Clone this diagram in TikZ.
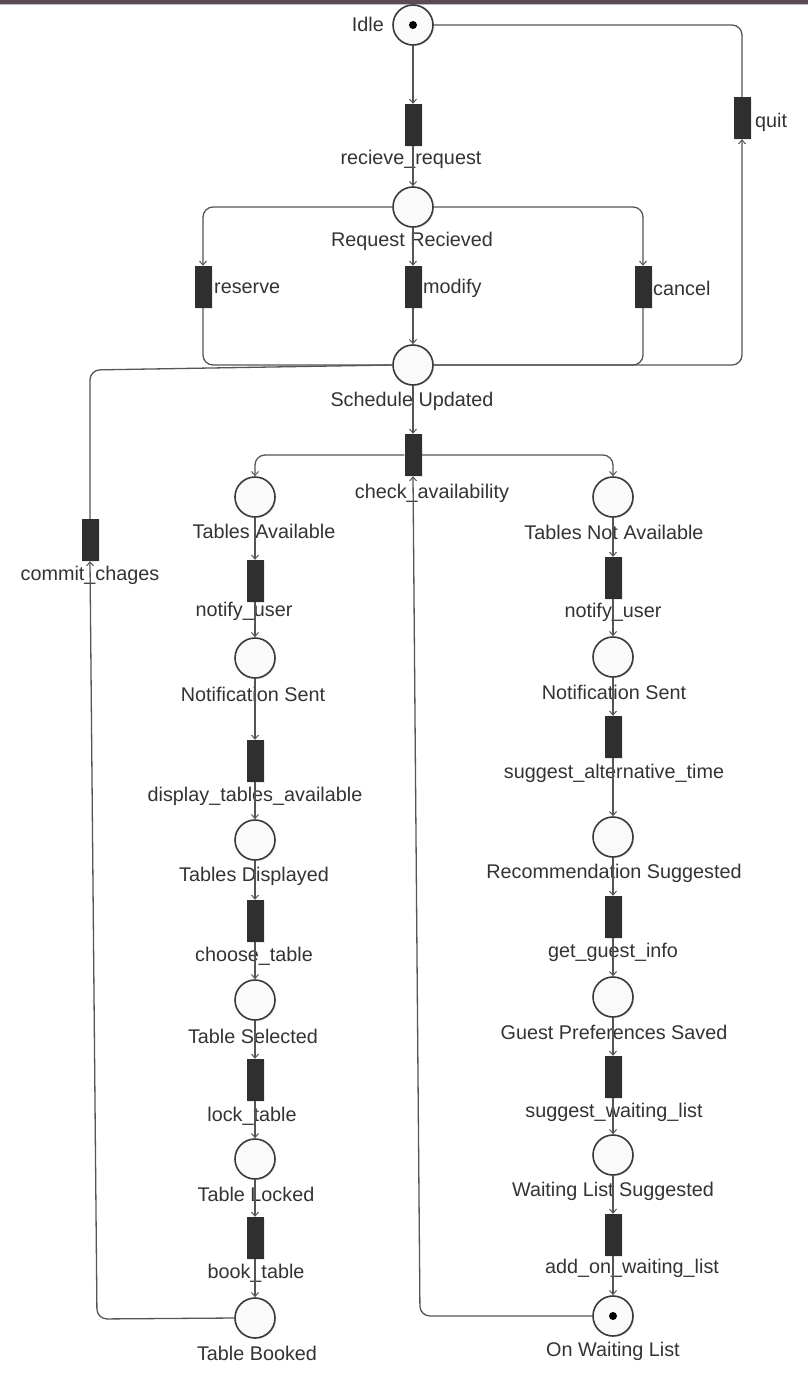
\documentclass[tikz,border=0pt]{standalone}
\usepackage{fontspec}
\setmainfont{Liberation Sans}
\usetikzlibrary{arrows.meta,shadows}
\definecolor{linec}{HTML}{555555}
\definecolor{placeline}{HTML}{3A3A3A}
\definecolor{placefill}{HTML}{FAFAFA}
\definecolor{transfill}{HTML}{2F2F2F}
\definecolor{textc}{HTML}{333333}
\definecolor{topbar}{HTML}{5C4A55}
\definecolor{topline}{HTML}{B8BEC0}
\begin{document}
\begin{tikzpicture}[x=1pt,y=-1pt,
  place/.style={circle,draw=placeline,line width=1.6pt,fill=placefill,minimum size=40pt,inner sep=0pt,
    drop shadow={opacity=0.18,shadow xshift=1.2pt,shadow yshift=-1.2pt}},
  trans/.style={rectangle,fill=transfill,minimum width=17pt,minimum height=42pt,inner sep=0pt,
    drop shadow={opacity=0.18,shadow xshift=1.2pt,shadow yshift=-1.2pt}},
  lbl/.style={font=\fontsize{19.8}{21}\selectfont,text=textc,inner sep=0pt},
  arc/.style={draw=linec,line width=1.3pt,rounded corners=10pt},
  arr/.style={arc,-{Straight Barb[length=4pt,width=7pt,line width=1pt]}},
  token/.style={circle,fill=black,minimum size=8pt,inner sep=0pt}]

\useasboundingbox (0,0) rectangle (808,1392);
\fill[topbar] (0,0) rectangle (808,3.5);
\fill[topline] (0,3.5) rectangle (808,4.5);

% top part
\node[place] (idle) at (413,25) {};
\node[token] (idletok) at (idle) {};
\node[lbl,anchor=east] (lidle) at (384,24) {Idle};
\node[trans] (recv) at (413,125) {};
\node[lbl] (lrecv) at (411,159) {recieve\_request};
\node[place] (rr) at (413,207) {};
\node[lbl] (lrr) at (412,241) {Request Recieved};
\node[trans] (reserve) at (203,287) {};
\node[lbl,anchor=west] (lreserve) at (214,288) {reserve};
\node[trans] (modify) at (413,287) {};
\node[lbl,anchor=west] (lmodify) at (423,288) {modify};
\node[trans] (cancel) at (643,287) {};
\node[lbl,anchor=west] (lcancel) at (653,288) {cancel};
\node[trans] (quit) at (742,118) {};
\node[lbl,anchor=west] (lquit) at (755,122) {quit};
\node[place] (su) at (413,365) {};
\node[lbl] (lsu) at (412,401) {Schedule Updated};
\node[trans] (check) at (413,455) {};
\node[lbl] (lcheck) at (432,493) {check\_availability};
\node[trans] (commit) at (90,540) {};
\node[lbl] (lcommit) at (90,575) {commit\_chages};

% left column
\node[place] (ta) at (255,497) {};
\node[lbl] (lta) at (264,531) {Tables Available};
\node[trans] (nu1) at (255,581) {};
\node[lbl] (lnu1) at (244,611) {notify\_user};
\node[place] (ns1) at (255,658) {};
\node[lbl] (lns1) at (253,694) {Notification Sent};
\node[trans] (dta) at (255,761) {};
\node[lbl] (ldta) at (255,796) {display\_tables\_available};
\node[place] (td) at (255,840) {};
\node[lbl] (ltd) at (254,876) {Tables Displayed};
\node[trans] (ct) at (255,921) {};
\node[lbl] (lct) at (254,956) {choose\_table};
\node[place] (ts) at (255,1000) {};
\node[lbl] (lts) at (253,1036) {Table Selected};
\node[trans] (lt) at (255,1080) {};
\node[lbl] (llt) at (252,1116) {lock\_table};
\node[place] (tl) at (255,1159) {};
\node[lbl] (ltl) at (256,1194) {Table Locked};
\node[trans] (bt) at (255,1238) {};
\node[lbl] (lbt) at (256,1273) {book\_table};
\node[place] (tb) at (255,1318) {};
\node[lbl] (ltb) at (257,1353) {Table Booked};

% right column
\node[place] (tna) at (613,497) {};
\node[lbl] (ltna) at (614,532) {Tables Not Available};
\node[trans] (nu2) at (613,578) {};
\node[lbl] (lnu2) at (613,612) {notify\_user};
\node[place] (ns2) at (613,657) {};
\node[lbl] (lns2) at (614,692) {Notification Sent};
\node[trans] (sat) at (613,737) {};
\node[lbl] (lsat) at (614,773) {suggest\_alternative\_time};
\node[place] (rs) at (613,837) {};
\node[lbl] (lrs) at (614,873) {Recommendation Suggested};
\node[trans] (ggi) at (613,917) {};
\node[lbl] (lggi) at (613,952) {get\_guest\_info};
\node[place] (gps) at (613,997) {};
\node[lbl] (lgps) at (614,1032) {Guest Preferences Saved};
\node[trans] (swl) at (613,1077) {};
\node[lbl] (lswl) at (614,1112) {suggest\_waiting\_list};
\node[place] (wls) at (613,1155) {};
\node[lbl] (lwls) at (613,1191) {Waiting List Suggested};
\node[trans] (aowl) at (613,1235) {};
\node[lbl] (laowl) at (632,1268) {add\_on\_waiting\_list};
\node[place] (owl) at (613,1316) {};
\node[token] (owltok) at (owl) {};
\node[lbl] (lowl) at (613,1351) {On Waiting List};

% corner coordinates
\coordinate (cbl) at (97,1319);
\coordinate (ctl) at (90,370);
\coordinate (cbr) at (420,1316);

% connectors: top
\draw[arr] (idle) -- (recv);
\draw[arr] (recv) -- (rr);
\draw[arr] (rr.west) -| (reserve.north);
\draw[arr] (rr) -- (modify);
\draw[arr] (rr.east) -| (cancel.north);
\draw[arc] (reserve.south) |- (su.west);
\draw[arr] (modify) -- (su);
\draw[arc] (cancel.south) |- (su.east);
\draw[arr] (su.east) -| (quit.south);
\draw[arc] (quit.north) |- (idle.east);
\draw[arr] (su) -- (check);
\draw[arr] (check.west) -| (ta.north);
\draw[arr] (check.east) -| (tna.north);

% left chain
\draw[arr] (ta) -- (nu1);
\draw[arr] (nu1) -- (ns1);
\draw[arr] (ns1) -- (dta);
\draw[arr] (dta) -- (td);
\draw[arr] (td) -- (ct);
\draw[arr] (ct) -- (ts);
\draw[arr] (ts) -- (lt);
\draw[arr] (lt) -- (tl);
\draw[arr] (tl) -- (bt);
\draw[arr] (bt) -- (tb);

% right chain
\draw[arr] (tna) -- (nu2);
\draw[arr] (nu2) -- (ns2);
\draw[arr] (ns2) -- (sat);
\draw[arr] (sat) -- (rs);
\draw[arr] (rs) -- (ggi);
\draw[arr] (ggi) -- (gps);
\draw[arr] (gps) -- (swl);
\draw[arr] (swl) -- (wls);
\draw[arr] (wls) -- (aowl);
\draw[arr] (aowl) -- (owl);

% loops back
\draw[arr] (tb.west) -- (cbl) -- (commit.south);
\draw[arc] (commit.north) -- (ctl) -- (su.west);
\draw[arr] (owl.west) -- (cbr) -- (check.south);
\end{tikzpicture}
\end{document}
